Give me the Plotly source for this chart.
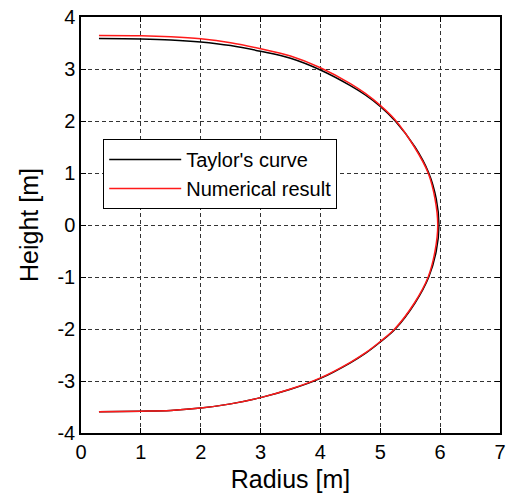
import plotly.graph_objects as go

# Taylor's curve (radius, height)
taylor_r = [0.3, 1.0, 1.5, 2.0, 2.5, 3.0, 3.5, 4.0, 4.5, 4.75, 5.0, 5.25, 5.58, 5.81, 5.935, 5.98,
            5.935, 5.81, 5.58, 5.25, 5.0, 4.75, 4.5, 4.0, 3.5, 3.0, 2.5, 2.0, 1.5, 1.0, 0.3]
taylor_z = [3.585, 3.578, 3.56, 3.52, 3.45, 3.34, 3.205, 2.98, 2.68, 2.5, 2.28, 2.0, 1.5, 1.0, 0.5, 0.0,
            -0.5, -1.0, -1.5, -2.0, -2.25, -2.47, -2.65, -2.95, -3.16, -3.32, -3.44, -3.52, -3.565, -3.58, -3.59]

# Numerical result (radius, height)
num_r = [0.3, 1.0, 1.5, 2.0, 2.5, 3.0, 3.5, 4.0, 4.5, 4.75, 5.0, 5.25, 5.57, 5.8, 5.915, 5.96,
         5.915, 5.8, 5.57, 5.24, 5.0, 4.75, 4.5, 4.0, 3.5, 3.0, 2.5, 2.0, 1.5, 1.0, 0.3]
num_z = [3.645, 3.64, 3.62, 3.58, 3.505, 3.39, 3.25, 3.025, 2.72, 2.53, 2.30, 2.02, 1.5, 1.0, 0.5, 0.0,
         -0.5, -1.0, -1.5, -2.0, -2.24, -2.46, -2.64, -2.94, -3.155, -3.32, -3.44, -3.52, -3.565, -3.58, -3.59]

x_ticks = [0, 1, 2, 3, 4, 5, 6, 7]
y_ticks = [-4, -3, -2, -1, 0, 1, 2, 3, 4]
y_ticktext = ["-4", "-3", "-2", "-1", "0", "1", "2", "3", "4"]

FONT = "Arial, Liberation Sans, sans-serif"

fig = go.Figure()
fig.add_trace(go.Scatter(x=taylor_r, y=taylor_z, mode="lines", name="Taylor's curve",
                         line=dict(color="black", width=1.5, shape="spline", smoothing=1.0)))
fig.add_trace(go.Scatter(x=num_r, y=num_z, mode="lines", name="Numerical result",
                         line=dict(color="#ff1a1a", width=1.5, shape="spline", smoothing=1.0)))

axis_common = dict(showline=True, linecolor="black", linewidth=1.5, mirror="ticks",
                   ticks="inside", ticklen=5, tickcolor="black", tickwidth=1,
                   showgrid=True, gridcolor="#333333", griddash="4px,3px", gridwidth=1,
                   zeroline=False, tickfont=dict(family=FONT, size=20, color="black"))

fig.update_layout(
    width=512, height=499,
    margin=dict(l=81, r=6, t=12, b=66),
    paper_bgcolor="white", plot_bgcolor="white",
    font=dict(family=FONT, color="black"),
    xaxis=dict(range=[0, 7], tickvals=x_ticks,
               title=dict(text="Radius [m]", font=dict(size=25), standoff=9), **axis_common),
    yaxis=dict(range=[-4, 4], tickvals=y_ticks, ticktext=y_ticktext,
               title=dict(text="Height [m]", font=dict(size=25), standoff=12), **axis_common),
    legend=dict(x=0.053, y=0.707, xanchor="left", yanchor="top",
                bgcolor="white", bordercolor="black", borderwidth=1,
                font=dict(size=20, family=FONT),
                tracegroupgap=0, itemwidth=72),
    showlegend=True,
)

fig.write_html("out.html")
